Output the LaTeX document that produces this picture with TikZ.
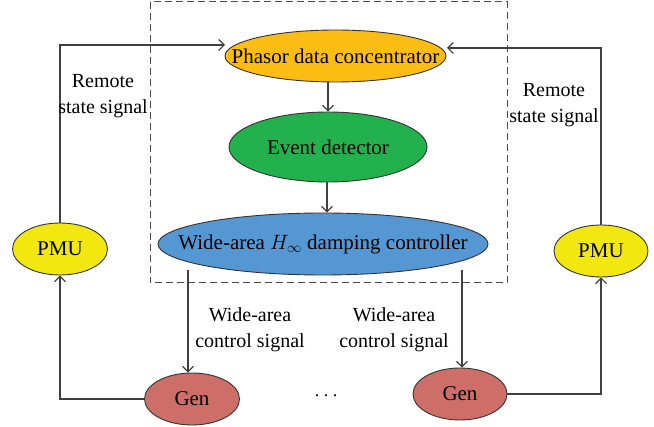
\documentclass[tikz,border=0pt]{standalone}
\usepackage{fontspec}
\setmainfont{Liberation Serif}
\usetikzlibrary{shapes.geometric,arrows.meta}
\definecolor{pdcfill}{HTML}{FBBD14}
\definecolor{evfill}{HTML}{22B14C}
\definecolor{wacfill}{HTML}{5497D3}
\definecolor{pmufill}{HTML}{F2E80F}
\definecolor{genfill}{HTML}{CD6F68}
\definecolor{linegray}{HTML}{404040}
\begin{document}
\begin{tikzpicture}[x=1pt,y=-1pt,
  blob/.style={ellipse,draw=black!80,line width=0.9pt,inner sep=0pt},
  txt/.style={inner sep=0pt,font=\fontsize{21}{24}\selectfont},
  link/.style={draw=linegray,line width=1.1pt,-{Straight Barb[length=5.5pt,width=11pt]}},
  lbl/.style={align=center,font=\fontsize{20}{26}\selectfont,inner sep=0pt}]
\useasboundingbox (0,0) rectangle (654,427);
% controller enclosure
\draw[draw=black!70,line width=1pt,dash pattern=on 7pt off 4pt] (150,2) rectangle (507,283);
% central chain (shapes sized explicitly, captions placed on top)
\node[blob,fill=pdcfill,minimum width=221pt,minimum height=52pt] (pdc) at (335.5,56) {};
\node[blob,fill=evfill,minimum width=198pt,minimum height=70pt] (ev) at (328,147) {};
\node[blob,fill=wacfill,minimum width=330pt,minimum height=62pt] (wac) at (323,244) {};
\node[txt] (pdct) at (pdc) {Phasor data concentrator};
\node[txt] (evt) at (ev) {Event detector};
\node[txt] (wact) at (wac) {Wide-area $H_{\infty}$ damping controller};
% measurement and generator units
\node[blob,fill=pmufill,minimum width=95pt,minimum height=52pt] (pmuL) at (60,249) {};
\node[blob,fill=pmufill,minimum width=94pt,minimum height=52pt] (pmuR) at (601,251) {};
\node[blob,fill=genfill,minimum width=95pt,minimum height=52pt] (genL) at (192,399) {};
\node[blob,fill=genfill,minimum width=94pt,minimum height=52pt] (genR) at (460,394) {};
\node[txt] (pmuLt) at (pmuL) {PMU};
\node[txt] (pmuRt) at (pmuR) {PMU};
\node[txt] (genLt) at (genL) {Gen};
\node[txt] (genRt) at (genR) {Gen};
\node[inner sep=0pt,anchor=base,font=\fontsize{18}{20}\selectfont] (dots) at (326,397) {.\hspace{4.5pt}.\hspace{4.5pt}.};
% internal flow
\draw[link] (pdc.south -| 328,0) -- (ev.north -| 328,0);
\draw[link] (ev.south -| 327,0) -- (wac.north -| 327,0);
% control outputs to generators
\coordinate (wacL) at (188,270);
\coordinate (wacR) at (462,270);
\draw[link] (wacL) -- (wacL |- genL.north);
\draw[link] (wacR) -- (wacR |- genR.north);
% measurement loops
\coordinate (pdcinL) at (225,45);
\coordinate (pdcinR) at (447,48);
\draw[link] (genL.west) -| (pmuL.south);
\draw[link] (pmuL.north) |- (pdcinL);
\draw[link] (genR.east) -| (pmuR.south);
\draw[link] (pmuR.north) |- (pdcinR);
% signal labels
\node[lbl] (rsL) at (103,96) {Remote\\state signal};
\node[lbl] (rsR) at (554,105) {Remote\\state signal};
\node[lbl] (wcL) at (250,330) {Wide-area\\control signal};
\node[lbl] (wcR) at (394,330) {Wide-area\\control signal};
\end{tikzpicture}
\end{document}
